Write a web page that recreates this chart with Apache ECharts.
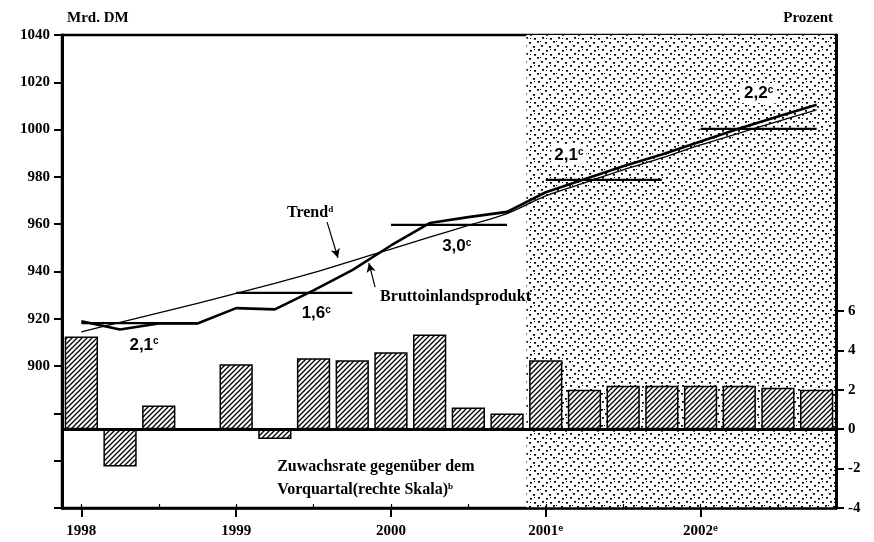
<!DOCTYPE html>
<html><head><meta charset="utf-8">
<script src="https://cdn.jsdelivr.net/npm/echarts@6/dist/echarts.min.js"></script>
<style>html,body{margin:0;padding:0;background:#fff}#c{width:874px;height:542px}</style>
</head><body><div id="c"></div>
<script>
// ---- data ----
const quarters = ['1998 Q1','1998 Q2','1998 Q3','1998 Q4','1999 Q1','1999 Q2','1999 Q3','1999 Q4',
  '2000 Q1','2000 Q2','2000 Q3','2000 Q4','2001 Q1','2001 Q2','2001 Q3','2001 Q4',
  '2002 Q1','2002 Q2','2002 Q3','2002 Q4'];
const growthRate = [4.7, -1.9, 1.2, 0.0, 3.3, -0.5, 3.6, 3.5, 3.9, 4.8, 1.1, 0.8, 3.5, 2.0, 2.2, 2.2, 2.2, 2.2, 2.1, 2.0];
const gdp = [919, 915.5, 918, 918, 924.5, 924, 932, 940.6, 951, 960.5, 963, 965.2, 973.5, 979, 984.5, 989.5, 995, 1000.5, 1005.5, 1010.5];
const trend = [914.5, 918.5, 922.5, 926.5, 930.8, 935, 939.5, 944.5, 949.5, 954.5, 959.5, 964.5, 972, 977.5, 983, 988, 993.5, 998.5, 1003.5, 1008.3];
const annualMeans = [918.2, 931, 959.7, 978.7, 1000.3];
const leftLabels = [900, 920, 940, 960, 980, 1000, 1020, 1040];
const rightLabels = [-4, -2, 0, 2, 4, 6];
const forecastYears = ['2001', '2002'];
const forecastStart = 12; // first forecast quarter index
// annotations: [x (quarter units), y (Mrd. DM), text, superscript]
const rateNotes = [[2.12, 909.2, '2,1', 'c'], [6.57, 922.4, '1,6', 'c'], [10.2, 950.8, '3,0', 'c'], [13.1, 989.3, '2,1', 'c'], [18.0, 1015.5, '2,2', 'c']];
const textNotes = [[6.41, 964.7, 'Trend', 'd', 'center'], [8.22, 929.2, 'Bruttoinlandsprodukt', '', 'left'],
  [5.56, 857.3, 'Zuwachsrate gegenüber dem', '', 'left'], [5.56, 847.6, 'Vorquartal(rechte Skala)', 'b', 'left']];
const arrows = [[[6.85, 960.9], [7.13, 945.8]], [[8.09, 933.4], [7.93, 943.5]]];

// ---- patterns ----
function hatch() {
  const c = document.createElement('canvas'); c.width = c.height = 5;
  const g = c.getContext('2d');
  g.fillStyle = '#fff'; g.fillRect(0, 0, 5, 5);
  g.strokeStyle = '#000'; g.lineWidth = 1.3;
  g.beginPath(); g.moveTo(0, 5); g.lineTo(5, 0); g.moveTo(-1, 1); g.lineTo(1, -1); g.moveTo(4, 6); g.lineTo(6, 4); g.stroke();
  return c;
}
function dots() {
  const c = document.createElement('canvas'); c.width = c.height = 16;
  const g = c.getContext('2d');
  g.fillStyle = '#fff'; g.fillRect(0, 0, 16, 16);
  g.fillStyle = '#000';
  const pts = [[2,2],[10,1],[6,6],[14,5],[1,10],[9,9],[5,14],[13,13]];
  pts.forEach(p => g.fillRect(p[0], p[1], 2, 1.7));
  g.fillRect(6, 1, 1, 1); g.fillRect(12, 9, 1, 1); g.fillRect(2, 6, 1, 1);
  return c;
}

const serif = '"Liberation Serif", "DejaVu Serif", serif';
const sans = '"Liberation Sans", Arial, sans-serif';

const chart = echarts.init(document.getElementById('c'));
const avgSeries = annualMeans.map((m, y) => ({
  type: 'line', xAxisIndex: 0, yAxisIndex: 0, z: 4, silent: true, symbol: 'none',
  lineStyle: { color: '#000', width: 2.2 },
  data: quarters.map((q, i) => Math.floor(i / 4) === y ? m : null)
}));

chart.setOption({
  animation: false,
  backgroundColor: '#fff',
  title: [
    { text: 'Mrd. DM', left: 62, top: 6, textStyle: { fontFamily: serif, fontWeight: 'bold', fontSize: 15, color: '#000' } },
    { text: 'Prozent', right: 36, top: 6, textStyle: { fontFamily: serif, fontWeight: 'bold', fontSize: 15, color: '#000' } }
  ],
  grid: { left: 62, right: 38, top: 35, bottom: 34, show: true, borderColor: '#000', borderWidth: 2.5, backgroundColor: 'transparent' },
  xAxis: [
    { type: 'category', data: quarters, boundaryGap: true,
      axisLine: { show: true, onZero: false, lineStyle: { color: '#000', width: 2.5 } },
      axisTick: { show: true, alignWithLabel: true, length: 9, lineStyle: { color: '#000', width: 2 }, interval: (i) => i % 4 === 0 },
      axisLabel: { interval: (i) => i % 4 === 0, margin: 16, color: '#000',
        formatter: (v) => { const y = v.slice(0, 4); return forecastYears.includes(y) ? '{y|' + y + '}{e|e}' : '{y|' + y + '}'; },
        rich: { y: { fontFamily: serif, fontWeight: 'bold', fontSize: 15, color: '#000' },
                e: { fontFamily: sans, fontWeight: 'bold', fontSize: 9, color: '#000', verticalAlign: 'top', lineHeight: 14 } } },
      splitLine: { show: false } },
    { type: 'value', min: 0, max: 20, show: false },
    { type: 'category', data: quarters, boundaryGap: true, position: 'bottom',
      axisLine: { show: false, onZero: false }, axisLabel: { show: false },
      axisTick: { show: true, inside: true, alignWithLabel: true, length: 4, lineStyle: { color: '#000', width: 1.2 } } }
  ],
  yAxis: [
    { type: 'value', min: 840, max: 1040, interval: 20, position: 'left',
      axisLine: { show: true, onZero: false, lineStyle: { color: '#000', width: 3 } },
      axisTick: { show: true, length: 8, lineStyle: { color: '#000', width: 2 } },
      axisLabel: { customValues: leftLabels, margin: 12, color: '#000', fontFamily: serif, fontWeight: 'bold', fontSize: 15, formatter: (v) => String(v) },
      splitLine: { show: false } },
    { type: 'value', min: -4, max: 20, interval: 2, position: 'right',
      axisLine: { show: true, onZero: false, lineStyle: { color: '#000', width: 3 } },
      axisTick: { show: true, length: 8, customValues: rightLabels, lineStyle: { color: '#000', width: 2 } },
      axisLabel: { customValues: rightLabels, margin: 12, color: '#000', fontFamily: serif, fontWeight: 'bold', fontSize: 15, formatter: (v) => String(v) },
      splitLine: { show: false } }
  ],
  series: [
    { type: 'line', xAxisIndex: 1, yAxisIndex: 0, data: [], z: 1, silent: true,
      markArea: { silent: true, z: 0, itemStyle: { color: { image: dots(), repeat: 'repeat' } },
        data: [[{ xAxis: forecastStart }, { xAxis: quarters.length }]] } },
    { type: 'bar', xAxisIndex: 0, yAxisIndex: 1, data: growthRate, z: 2, barCategoryGap: '14%', silent: true,
      itemStyle: { color: { image: hatch(), repeat: 'repeat' }, borderColor: '#000', borderWidth: 1.5 },
      markLine: { silent: true, symbol: 'none', label: { show: false }, lineStyle: { color: '#000', width: 3, type: 'solid' }, data: [{ yAxis: 0 }] } },
    { type: 'line', xAxisIndex: 0, yAxisIndex: 0, data: trend, z: 3, symbol: 'none', silent: true, smooth: 0.3,
      lineStyle: { color: '#000', width: 1.3 } },
    { type: 'line', xAxisIndex: 0, yAxisIndex: 0, data: gdp, z: 4, symbol: 'none', silent: true,
      lineStyle: { color: '#000', width: 2.6 } },
    ...avgSeries,
    { type: 'scatter', xAxisIndex: 1, yAxisIndex: 0, z: 10, symbolSize: 0, silent: true, data: [],
      markLine: { silent: true, symbol: ['none', 'arrow'], symbolSize: [7, 9], label: { show: false },
        lineStyle: { color: '#000', width: 1.2, type: 'solid' },
        data: arrows.map(a => [{ coord: a[0] }, { coord: a[1] }]) } }
  ]
});

// annotation texts, anchored in data space through the axes
const toPx = (p) => chart.convertToPixel({ xAxisIndex: 1, yAxisIndex: 0 }, p);
const graphics = [];
rateNotes.forEach(n => {
  const [x, y] = toPx([n[0], n[1]]);
  graphics.push({ type: 'text', x: x, y: y, z: 100, silent: true,
    style: { text: '{n|' + n[2] + '}{s|' + n[3] + '}', align: 'center', verticalAlign: 'middle',
      backgroundColor: '#fff', padding: [2, 3, 1, 3],
      rich: { n: { fontFamily: sans, fontWeight: 'bold', fontSize: 17, fill: '#000' },
              s: { fontFamily: sans, fontWeight: 'bold', fontSize: 10, fill: '#000', verticalAlign: 'top', lineHeight: 15 } } } });
});
textNotes.forEach(n => {
  const [x, y] = toPx([n[0], n[1]]);
  graphics.push({ type: 'text', x: x, y: y, z: 100, silent: true,
    style: { text: '{n|' + n[2] + '}' + (n[3] ? '{s|' + n[3] + '}' : ''), align: n[4], verticalAlign: 'middle',
      rich: { n: { fontFamily: serif, fontWeight: 'bold', fontSize: 16, fill: '#000' },
              s: { fontFamily: serif, fontWeight: 'bold', fontSize: 9, fill: '#000', verticalAlign: 'top', lineHeight: 14 } } } });
});
chart.setOption({ graphic: graphics });
</script></body></html>
